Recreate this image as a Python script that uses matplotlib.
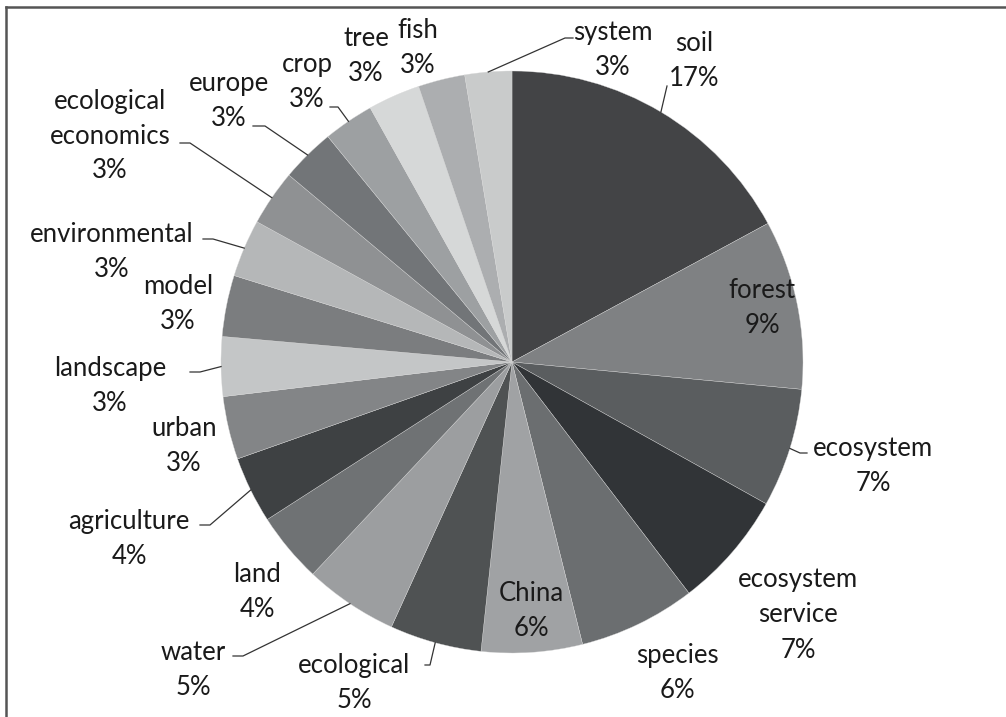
import numpy as np
import matplotlib
matplotlib.use("Agg")
import matplotlib.pyplot as plt
from matplotlib.lines import Line2D

W, H = 1006, 717

# keyword shares (%), clockwise from 12 o'clock
keywords = ["soil", "forest", "ecosystem", "ecosystem\nservice", "species", "China",
            "ecological", "water", "land", "agriculture", "urban", "landscape",
            "model", "environmental", "ecological\neconomics", "europe", "crop",
            "tree", "fish", "system"]
shares = [17.1, 9.4, 6.6, 6.5, 6.5, 5.6, 5.1, 5.2, 3.9, 3.7, 3.5, 3.3,
          3.4, 3.2, 3.1, 3.0, 2.8, 2.9, 2.6, 2.6]
pct_labels = ["17%", "9%", "7%", "7%", "6%", "6%", "5%", "5%", "4%", "4%", "3%", "3%",
              "3%", "3%", "3%", "3%", "3%", "3%", "3%", "3%"]
colors = ["#434446", "#7f8183", "#5a5d5f", "#313437", "#6b6e70", "#a0a2a4",
          "#4f5253", "#9c9ea0", "#6f7274", "#3e4143", "#838587", "#c4c6c7",
          "#7b7d7f", "#b5b7b8", "#8f9193", "#727578", "#9da0a2", "#d6d8d8",
          "#acaeb0", "#c9cbcb"]

# label centre (px from top-left) and leader start points near the text
label_pos = [(694, 61), (762, 308), (873, 466), (798, 615), (677, 673), (531, 611),
             (354, 683), (193, 670), (257, 592), (129, 539), (184, 446), (110, 386),
             (178, 304), (112, 252), (110, 136), (229, 101), (307, 82), (366, 56),
             (418, 48), (613, 50)]
leaders = {0: [(667, 86)], 2: [(807, 453), (800, 453)], 6: [(425, 665), (430, 665)],
           7: [(233, 656), (243, 656)], 9: [(200, 525), (210, 525)],
           11: [(190, 372), (200, 372)], 13: [(203, 239), (213, 239)],
           14: [(180, 143), (190, 143)], 15: [(253, 126), (265, 126)],
           16: [(330, 107), (338, 107)], 19: [(573, 38), (565, 38)]}

plt.rcParams['font.family'] = ['Lato', 'DejaVu Sans']

fig = plt.figure(figsize=(W / 100, H / 100), dpi=100)
ax = fig.add_axes([0, 0, 1, 1])

cx, cy, r = 512, H - 362, 291
wedges, _ = ax.pie(shares, colors=colors, startangle=90, counterclock=False,
                   center=(cx, cy), radius=r, normalize=True,
                   wedgeprops=dict(edgecolor="#d8d8d8", linewidth=0.25))
ax.set_xlim(0, W)
ax.set_ylim(0, H)
ax.set_aspect('equal')
ax.axis('off')

for i, w in enumerate(wedges):
    lx, ly = label_pos[i]
    ax.text(lx, H - ly, keywords[i] + "\n" + pct_labels[i], ha="center", va="center",
            fontsize=18.5, color="#1a1a1a", linespacing=1.5)
    if i in leaders:
        mid = np.deg2rad((w.theta1 + w.theta2) / 2)
        ex, ey = cx + r * np.cos(mid), cy + r * np.sin(mid)
        pts = leaders[i] + [(ex, H - ey)]
        ax.plot([p[0] for p in pts], [H - p[1] for p in pts], color="#333333", lw=0.9)

# frame (top and left edges only)
fig.add_artist(Line2D([6 / W, 1], [1 - 7 / H, 1 - 7 / H], color="#555555", lw=1.8))
fig.add_artist(Line2D([6 / W, 6 / W], [0, 1 - 7 / H], color="#555555", lw=1.8))

fig.savefig("out.png", dpi=100, facecolor="white")
